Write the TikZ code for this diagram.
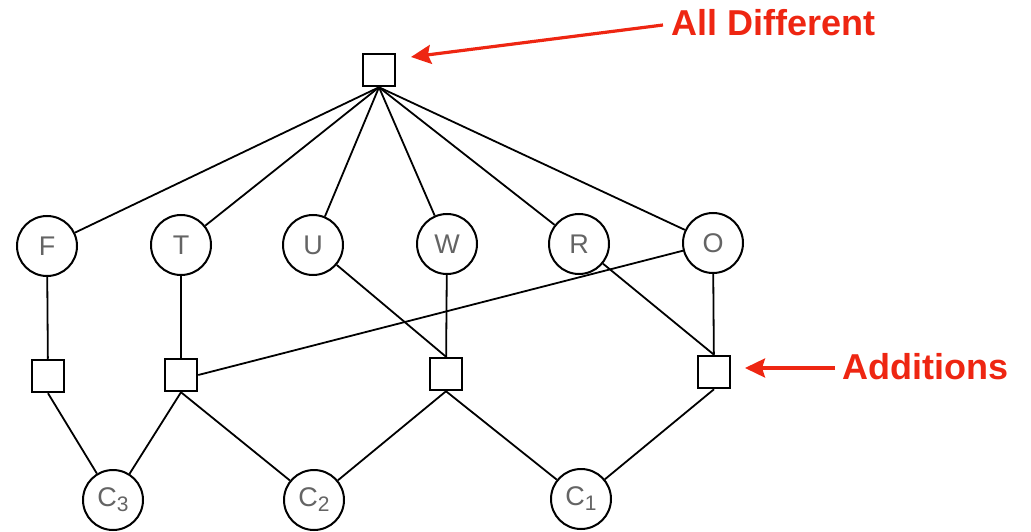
\documentclass[tikz,border=0pt]{standalone}
\usepackage{fontspec}
\setmainfont{Liberation Sans}
\usetikzlibrary{arrows.meta}
\definecolor{callout}{RGB}{238,38,18}
\definecolor{varlabel}{RGB}{100,100,100}
\newcommand{\cvar}[1]{C\raisebox{-5pt}{\fontsize{21}{21}\selectfont #1}}
\tikzset{
  varnode/.style={circle, draw, line width=2pt, minimum size=60pt, inner sep=0pt,
    text=varlabel, font=\fontsize{27}{27}\selectfont},
  factor/.style={rectangle, draw, line width=2pt, minimum size=32.5pt, inner sep=0pt},
  edge/.style={line width=1.8pt},
  callarrow/.style={draw=callout, line width=3.2pt,
    -{Stealth[length=20pt,width=19pt,inset=3pt]}},
  calltext/.style={text=callout, font=\fontsize{36}{36}\selectfont\bfseries, inner sep=0pt}
}
\begin{document}
\begin{tikzpicture}[x=1pt, y=-1pt]
  \useasboundingbox (0,0) rectangle (1031,532);

  % all-different constraint
  \node[factor] (ad) at (379,70) {};

  % variables
  \node[varnode] (F) at (47,246) {F};
  \node[varnode] (T) at (181,245) {T};
  \node[varnode] (U) at (313,245) {U};
  \node[varnode] (W) at (447,244) {W};
  \node[varnode] (R) at (579,244) {R};
  \node[varnode] (O) at (713,243) {O};

  % column addition constraints
  \node[factor] (sF) at (48,376) {};
  \node[factor] (sT) at (181,375) {};
  \node[factor] (sW) at (446,374) {};
  \node[factor] (sO) at (714,372) {};

  % carries
  \node[varnode] (c3) at (113,500) {\cvar{3}};
  \node[varnode] (c2) at (314,500) {\cvar{2}};
  \node[varnode] (c1) at (581,499) {\cvar{1}};

  % all-different edges
  \foreach \v in {F,T,U,W,R,O}
    \draw[edge] (ad.south) -- (\v);

  % addition edges
  \draw[edge] (F) -- (sF);
  \draw[edge] (T) -- (sT);
  \draw[edge] (O) -- (sT.east);
  \draw[edge] (U) -- (sW.north);
  \draw[edge] (W) -- (sW);
  \draw[edge] (R) -- (sO.north);
  \draw[edge] (O) -- (sO);
  \draw[edge] (sF.south) -- (c3);
  \draw[edge] (sT.south) -- (c3);
  \draw[edge] (sT.south) -- (c2);
  \draw[edge] (sW.south) -- (c2);
  \draw[edge] (sW.south) -- (c1);
  \draw[edge] (sO.south) -- (c1);

  % callouts
  \node[calltext, anchor=base west] (lab1) at (671,36) {All Different};
  \node[calltext, anchor=base west] (lab2) at (842,379) {Additions};
  \coordinate (t1) at (663,25);
  \coordinate (h1) at (411,57);
  \coordinate (t2) at (835,368);
  \coordinate (h2) at (745,368);
  \draw[callarrow] (t1) -- (h1);
  \draw[callarrow] (t2) -- (h2);
\end{tikzpicture}
\end{document}
